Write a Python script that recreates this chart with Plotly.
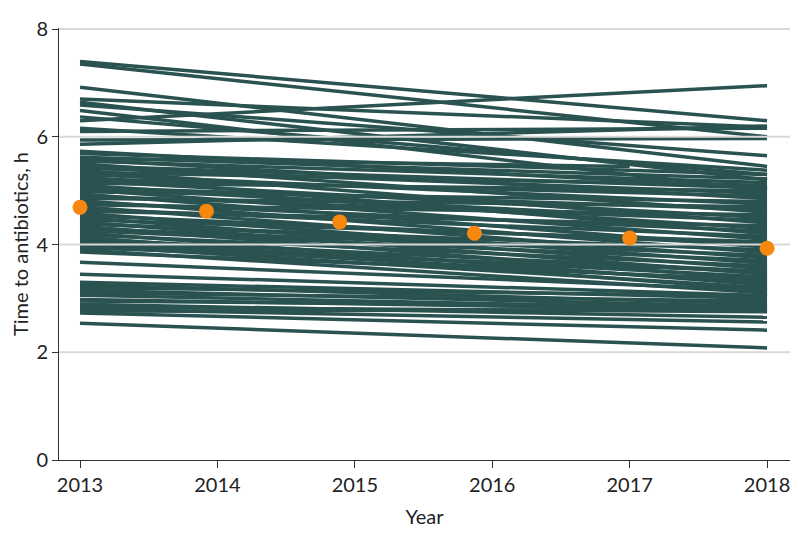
import plotly.graph_objects as go

# Hospital trajectories, 2013 -> 2018 (h)
upper_2013 = [7.40, 7.35, 6.92, 6.70, 6.64, 6.59, 6.49, 6.37, 6.30, 6.16, 6.10, 5.94, 5.86, 5.73, 5.69]
upper_2018 = [6.30, 6.00, 5.45, 6.18, 5.20, 5.65, 5.00, 5.30, 6.95, 5.38, 6.16, 5.97, 6.20, 5.05, 5.30]

dense_2013 = [5.62, 5.58, 5.55, 5.50, 5.46, 5.42, 5.38, 5.34, 5.30, 5.26, 5.22, 5.18, 5.14, 5.10, 5.06,
              5.02, 4.98, 4.94, 4.90, 4.86, 4.82, 4.78, 4.74, 4.70, 4.66, 4.62, 4.58, 4.54, 4.50, 4.46,
              4.42, 4.38, 4.34, 4.30, 4.26, 4.22, 4.18, 4.14, 4.10, 4.06, 4.02, 3.98, 3.94, 3.90, 3.86]
dense_2018 = [5.22, 4.85, 5.15, 4.60, 5.05, 4.95, 4.40, 5.10, 4.75, 4.20, 4.90, 4.50, 5.00, 4.30, 4.65,
              4.10, 4.80, 3.95, 4.45, 4.70, 3.85, 4.25, 4.55, 3.75, 4.15, 4.35, 3.65, 4.00, 3.55, 4.05,
              3.45, 3.90, 3.35, 3.80, 3.70, 3.25, 3.60, 3.15, 3.50, 3.40, 3.30, 3.20, 3.50, 3.10, 3.35]

lower_2013 = [3.67, 3.45, 3.30, 3.25, 3.20, 3.15, 3.10, 3.06, 2.98, 2.95, 2.89, 2.84, 2.80, 2.76, 2.73, 2.54]
lower_2018 = [3.15, 3.05, 3.00, 2.90, 3.05, 2.85, 2.95, 2.80, 2.78, 2.85, 2.65, 2.75, 2.56, 2.80, 2.41, 2.08]

# Trajectories ending in 2017
short_2013 = [5.60, 5.05, 4.40]
short_2017 = [5.45, 4.55, 3.90]

# Yearly means
mean_x = [2013.0, 2013.92, 2014.89, 2015.87, 2017.0, 2018.0]
mean_y = [4.69, 4.62, 4.42, 4.21, 4.12, 3.93]

years = [2013, 2014, 2015, 2016, 2017, 2018]
y_ticks = [0, 2, 4, 6, 8]
x_range = [2012.847, 2018.167]
y_range = [0, 8.02]

LINE = "#2a5250"
ORANGE = "#f7870f"
GRID = "#d9d9d9"
FONT = "Lato, Open Sans, sans-serif"

xs, ys = [], []
for s_list, e_list in [(upper_2013, upper_2018), (dense_2013, dense_2018), (lower_2013, lower_2018)]:
    for s, e in zip(s_list, e_list):
        xs += [years[0], years[-1], None]
        ys += [s, e, None]
for s, e in zip(short_2013, short_2017):
    xs += [years[0], years[-2], None]
    ys += [s, e, None]

fig = go.Figure()
fig.add_trace(go.Scatter(x=xs, y=ys, mode="lines", line=dict(color=LINE, width=3.5),
                         hoverinfo="skip", showlegend=False))

# gridlines drawn above the trajectories
gx, gy = [], []
for t in y_ticks[1:]:
    gx += [x_range[0], x_range[1], None]
    gy += [t, t, None]
fig.add_trace(go.Scatter(x=gx, y=gy, mode="lines", line=dict(color=GRID, width=2),
                         hoverinfo="skip", showlegend=False))

fig.add_trace(go.Scatter(x=mean_x, y=mean_y, mode="markers",
                         marker=dict(color=ORANGE, size=15, line=dict(width=0)),
                         showlegend=False))

fig.update_layout(
    width=790, height=537,
    margin=dict(l=51, r=8, t=20, b=85),
    paper_bgcolor="white", plot_bgcolor="white",
    font=dict(family=FONT, size=20, color="#222"),
    xaxis=dict(range=x_range, tickvals=years, ticktext=[str(y) for y in years],
               showgrid=False, zeroline=False, showline=True, linecolor="#333", linewidth=1,
               ticks="outside", ticklen=7, tickcolor="#333", automargin=False,
               title=dict(text="Year", font=dict(size=20), standoff=14)),
    yaxis=dict(range=y_range, tickvals=y_ticks, showgrid=False, zeroline=False,
               showline=True, linecolor="#333", linewidth=1,
               ticks="outside", ticklen=6, tickcolor="#333", automargin=False,
               title=dict(text="Time to antibiotics, h", font=dict(size=20), standoff=12)),
)

fig.write_html("out.html")
